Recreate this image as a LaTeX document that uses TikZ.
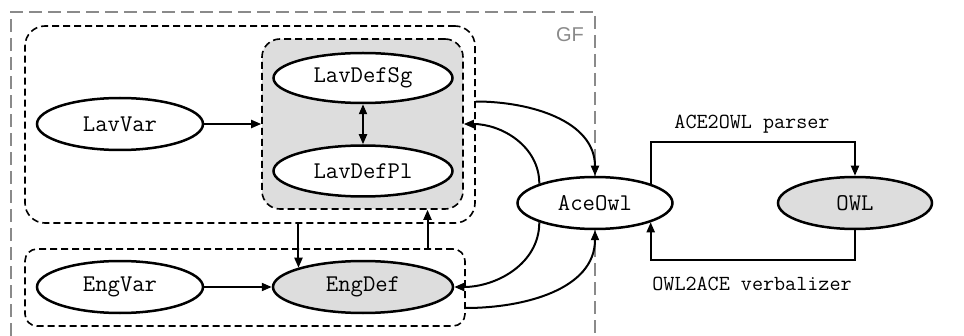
\documentclass[tikz,border=0pt]{standalone}
\usepackage{fontspec}
\setmainfont{Liberation Serif}
\newfontfamily\codefont{Latin Modern Mono}
\newfontfamily\gffont{Liberation Sans}
\usetikzlibrary{arrows.meta,calc,shapes.geometric}
\definecolor{shade}{HTML}{DDDDDD}
\definecolor{gfgray}{HTML}{8A8A8A}
\begin{document}
\begin{tikzpicture}[x=1pt,y=1pt,
  ell/.style={ellipse,draw,line width=2.5pt,inner sep=0pt,font=\codefont\fontsize{24}{28}\selectfont},
  grp/.style={draw,dashed,dash pattern=on 7pt off 4pt,line width=1.6pt,inner sep=0pt},
  arr/.style={line width=2pt,-{Triangle[length=10pt,width=8pt]}},
  lbl/.style={font=\codefont\fontsize{21.5}{25}\selectfont,inner sep=0pt}]
\useasboundingbox (0,0) rectangle (964,335);
% GF box
\draw[gfgray,line width=1.5pt,dash pattern=on 13pt off 6pt] (11,-20) -- (11,323) -- (595,323) -- (595,-20);
\node[gfgray,font=\gffont\fontsize{20}{24}\selectfont,inner sep=0pt] (gf) at (570,300) {GF};
% groups
\node[grp,rounded corners=20pt,minimum width=450pt,minimum height=197pt] (lavbox) at (250,210.5) {};
\node[grp,rounded corners=18pt,fill=shade,minimum width=201pt,minimum height=170pt] (inner) at (362.5,211) {};
\node[grp,rounded corners=12pt,minimum width=440pt,minimum height=77pt] (engbox) at (245,47.5) {};
% nodes
\node[ell,minimum width=166pt,minimum height=52pt] (LavVar) at (120,211) {LavVar};
\node[ell,fill=white,minimum width=179pt,minimum height=50pt] (LavDefSg) at (363,257) {LavDefSg};
\node[ell,fill=white,minimum width=179pt,minimum height=51pt] (LavDefPl) at (363,164) {LavDefPl};
\node[ell,minimum width=166pt,minimum height=52pt] (EngVar) at (120,48) {EngVar};
\node[ell,fill=shade,minimum width=180pt,minimum height=52pt] (EngDef) at (363,48) {EngDef};
\node[ell,fill=white,minimum width=155pt,minimum height=52pt] (AceOwl) at (595,132) {AceOwl};
\node[ell,fill=shade,minimum width=154pt,minimum height=52pt] (OWL) at (855,132) {OWL};
% arrows
\draw[arr] (LavVar.east) -- (inner.west);
\draw[line width=2pt,{Triangle[length=10pt,width=8pt]}-{Triangle[length=10pt,width=8pt]}] (LavDefSg.south) -- (LavDefPl.north);
\draw[arr] (EngVar.east) -- (EngDef.west);
\draw[arr] (lavbox.south -| EngDef.north west) -- (EngDef.north west);
\draw[arr] (engbox.north -| EngDef.north east) -- (inner.south -| EngDef.north east);
\coordinate (c1) at ($(lavbox.east)+(0,23)$);
\coordinate (c4) at ($(engbox.east)+(0,-20.5)$);
\draw[arr] (c1) to[out=0,in=90] (AceOwl.north);
\draw[arr] (AceOwl.north west) to[out=90,in=0] (inner.east);
\draw[arr] (AceOwl.south west) to[out=270,in=0] (EngDef.east);
\draw[arr] (c4) to[out=0,in=270] (AceOwl.south);
% right side
\coordinate (top) at (0,193);
\coordinate (bot) at (0,75);
\draw[arr] (AceOwl.north east) -- (AceOwl.north east |- top) -- (OWL.north |- top) -- (OWL.north);
\draw[arr] (OWL.south) -- (OWL.south |- bot) -- (AceOwl.south east |- bot) -- (AceOwl.south east);
\node[lbl] (parser) at (752,211) {ACE2OWL parser};
\node[lbl] (verb) at (752,51) {OWL2ACE verbalizer};
\end{tikzpicture}
\end{document}
